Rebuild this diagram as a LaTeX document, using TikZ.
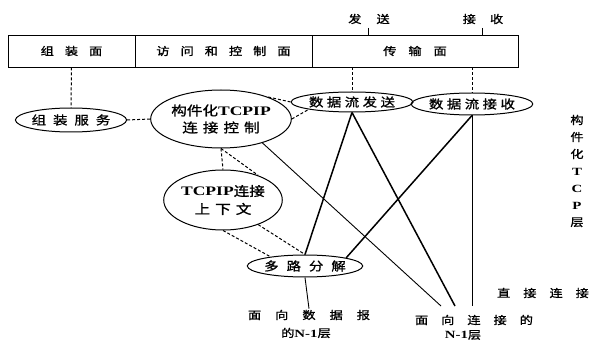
\documentclass[tikz,border=0pt]{standalone}
\usepackage{fontspec}
\setmainfont{Liberation Serif}
\newfontfamily\cjk[FakeStretch=1.2,FakeBold=1.2]{Noto Sans CJK SC}
\newfontfamily\latf[FakeStretch=1.35]{Liberation Serif}
\usetikzlibrary{shapes.geometric}
\newcommand\ls[1]{\hspace{#1pt}}
\newcommand\lat[1]{{\latf\bfseries #1}}
\begin{document}
\begin{tikzpicture}[x=1pt,y=-1pt,
  every node/.style={font=\cjk\fontsize{12}{14}\selectfont},
  small/.style={font=\cjk\fontsize{11}{13}\selectfont},
  cell/.style={draw, line width=0.8pt, minimum height=32pt, inner sep=0pt, small},
  ell/.style={ellipse, draw, line width=1pt, inner sep=0pt},
  dsh/.style={line width=1pt, dash pattern=on 3pt off 2pt},
  thk/.style={line width=1.5pt},
  thn/.style={line width=0.9pt},
  lbl/.style={inner sep=1pt, small}]
\useasboundingbox (0,0) rectangle (590,342);

% top bar
\node[cell, minimum width=127pt] (ca) at (71.5,51) {组\ls{11}装\ls{11}面};
\node[cell, minimum width=177pt] (cb) at (223.5,51) {访\ls{11}问\ls{11}和\ls{11}控\ls{11}制\ls{11}面};
\node[cell, minimum width=206pt] (cc) at (415,51) {传\ls{12}输\ls{12}面};

% labels above
\node[lbl] (lfs) at (369,19) {发\ls{15}送};
\node[lbl] (ljs) at (483,19) {接\ls{14}收};
\coordinate (tfs) at (368,28);
\coordinate (tjs) at (482,28);
\draw[thn] (tfs) -- (tfs |- cc.north);
\draw[thn] (tjs) -- (tjs |- cc.north);

% ellipses
\node[ell, minimum width=96pt, minimum height=24pt] (zz) at (71,120) {组\ls{7}装\ls{7}服\ls{7}务};
\node[ell, minimum width=114pt, minimum height=58pt, align=center,
      font=\cjk\fontsize{13}{17}\selectfont] (gj) at (221,119)
      {构件化\lat{TCPIP}\\连\ls{5}接\ls{5}控\ls{5}制};
\node[ell, minimum width=96pt, minimum height=60pt, align=center,
      font=\cjk\fontsize{13}{18}\selectfont] (tc) at (223,200)
      {\lat{TCPIP}连接\\上\ls{5}下\ls{5}文};
\node[ell, minimum width=96pt, minimum height=20pt] (fs) at (352,102) {数\ls{3.5}据\ls{3.5}流\ls{3.5}发\ls{3.5}送};
\node[ell, minimum width=96pt, minimum height=22pt] (js) at (472,104) {数\ls{3.5}据\ls{3.5}流\ls{3.5}接\ls{3.5}收};
\node[ell, minimum width=96pt, minimum height=22pt] (dl) at (305,266) {多\ls{8}路\ls{8}分\ls{8}解};

% bottom labels
\node[lbl] (dg1) at (309,315) {面\ls{14}向\ls{14}数\ls{14}据\ls{14}报};
\node[lbl] (dg2) at (306,333) {的\lat{N-1}层};
\node[lbl] (cx1) at (474,320) {面\ls{13}向\ls{13}连\ls{13}接\ls{13}的};
\node[lbl] (cx2) at (463,335) {\lat{N-1}层};
\node[lbl] (zj) at (543,293) {直\ls{13}接\ls{13}连\ls{13}接};
\node[lbl, align=center, font=\cjk\fontsize{11}{17}\selectfont] (vt) at (577,171)
  {构\\件\\化\\\lat{T}\\\lat{C}\\\lat{P}\\层};

\coordinate (e1) at (441,306);
\coordinate (e2) at (455,306);
\coordinate (e3) at (472,306);

% dashed connectors
\draw[dsh] (ca.south) -- (zz.north);
\draw[dsh] (zz.east) -- (gj.west);
\draw[dsh] (gj.25) -- (fs.west);
\draw[dsh] (gj.east) -- (fs.south west);
\draw[dsh] (fs.north |- cc.south) -- (fs.north);
\draw[dsh] (js.north |- cc.south) -- (js.north);
\draw[dsh] (fs.east) -- (js.west);
\draw[dsh] (gj.south) -- (tc.north);
\draw[dsh] (gj.south) -- (tc.35);
\draw[dsh] (tc.-35) -- (dl.north);
\draw[dsh] (tc.south) -- (dl.165);

% solid connectors
\draw[thk] (fs.south) -- (dl.north);
\draw[thk] (fs.south) -- (e2);
\draw[thk] (js.south) -- (dl.north east);
\draw[thn] (js.south) -- (e3);
\draw[thn] (gj.-30) -- (e1);
\draw[thn] (dl.south) -- (dg1.north);
\end{tikzpicture}
\end{document}
